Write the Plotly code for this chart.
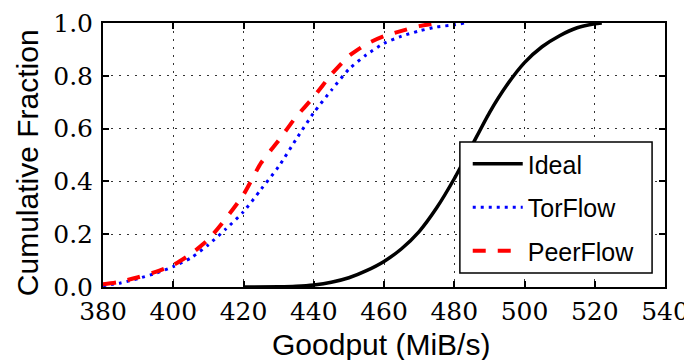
import plotly.graph_objects as go

ideal_x = [420, 430, 435, 440, 445, 450, 455, 460, 465, 470, 475, 480, 485, 490, 495, 500, 505, 510, 515, 520, 522]
ideal_y = [0.0, 0.001, 0.003, 0.008, 0.018, 0.035, 0.062, 0.097, 0.145, 0.21, 0.30, 0.41, 0.535, 0.66, 0.765, 0.85, 0.91, 0.952, 0.982, 0.997, 1.0]

tor_x = [380, 385, 390, 395, 400, 405, 410, 415, 420, 425, 430, 435, 440, 445, 450, 455, 460, 465, 470, 475, 480, 483]
tor_y = [0.005, 0.015, 0.032, 0.052, 0.077, 0.11, 0.16, 0.22, 0.285, 0.37, 0.456, 0.56, 0.66, 0.745, 0.825, 0.88, 0.923, 0.95, 0.97, 0.985, 0.993, 1.0]

peer_x = [380, 385, 390, 395, 400, 405, 410, 415, 420, 425, 430, 435, 440, 445, 450, 455, 460, 465, 470, 475]
peer_y = [0.01, 0.02, 0.037, 0.057, 0.083, 0.125, 0.18, 0.26, 0.35, 0.47, 0.555, 0.645, 0.72, 0.805, 0.875, 0.92, 0.95, 0.97, 0.988, 1.0]

x_ticks = [380, 400, 420, 440, 460, 480, 500, 520, 540]
y_ticks = [0.0, 0.2, 0.4, 0.6, 0.8, 1.0]
y_tick_text = ["0.0", "0.2", "0.4", "0.6", "0.8", "1.0"]

SERIF = "DejaVu Serif, serif"
SANS = "Liberation Sans"

fig = go.Figure()
fig.add_trace(go.Scatter(x=ideal_x, y=ideal_y, mode="lines", name="Ideal", legendgroup="a",
                         line=dict(color="black", width=3.5, shape="spline", smoothing=0.6)))
fig.add_trace(go.Scatter(x=tor_x, y=tor_y, mode="lines", name="TorFlow", legendgroup="b",
                         line=dict(color="blue", width=3, dash="3px,5px", shape="spline", smoothing=0.6)))
fig.add_trace(go.Scatter(x=peer_x, y=peer_y, mode="lines", name="PeerFlow", legendgroup="c",
                         line=dict(color="red", width=4, dash="13px,12px", shape="spline", smoothing=0.6)))

tick_font = dict(family=SERIF, size=25, color="black")

axis_common = dict(
    showline=True, linecolor="black", linewidth=2, mirror="ticks",
    ticks="inside", ticklen=6, tickwidth=1.5, tickcolor="black",
    showgrid=True, gridcolor="#333333", gridwidth=1.3, griddash="1.5px,6.5px",
    zeroline=False, automargin=False, ticklabeloverflow="allow",
)

fig.update_xaxes(range=[380, 540], tickvals=x_ticks, ticklabelstandoff=1,
                 tickfont=tick_font, **axis_common)
fig.update_yaxes(range=[0, 1], tickvals=y_ticks, ticktext=y_tick_text,
                 ticklabelstandoff=3, tickfont=tick_font, **axis_common)

# legend frame (opaque, drawn over the curves like the reference)
fig.add_shape(type="rect", xref="paper", yref="paper", x0=0.635, x1=0.977, y0=0.053, y1=0.549,
              fillcolor="white", line=dict(color="black", width=1.5), layer="above")

fig.add_annotation(text="Goodput (MiB/s)", xref="paper", yref="paper", x=0.495, y=-0.218,
                   xanchor="center", yanchor="middle", showarrow=False,
                   font=dict(family=SANS, size=30, color="black"))
fig.add_annotation(text="Cumulative Fraction", xref="paper", yref="paper", x=-0.133, y=0.47,
                   xanchor="center", yanchor="middle", showarrow=False, textangle=-90,
                   font=dict(family=SANS, size=30, color="black"))

# the page adds an 8px body margin, so the figure is 8px smaller on each axis
fig.update_layout(
    width=684, height=352,
    margin=dict(l=95, r=27, t=15, b=73),
    font=dict(family=SERIF, size=25, color="black"),
    plot_bgcolor="white", paper_bgcolor="white",
    showlegend=True,
    legend=dict(
        x=0.649, y=0.553, xanchor="left", yanchor="top",
        bgcolor="rgba(0,0,0,0)", borderwidth=0,
        font=dict(family=SANS, size=25, color="black"),
        tracegroupgap=8, itemwidth=50,
    ),
)

fig.write_html("out.html")
